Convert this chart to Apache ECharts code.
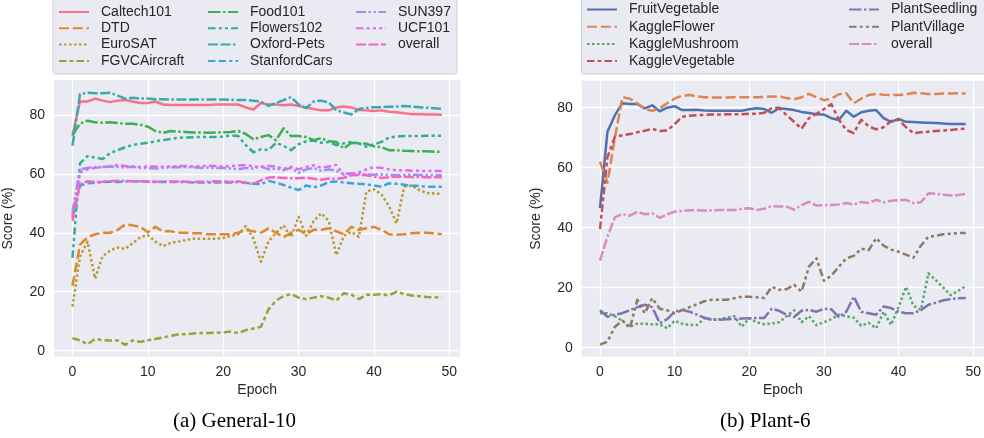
<!DOCTYPE html>
<html><head><meta charset="utf-8">
<script src="https://cdn.jsdelivr.net/npm/echarts@6/dist/echarts.min.js"></script>
<style>html,body{margin:0;padding:0;background:#fff}#c{width:984px;height:438px}</style>
</head><body><div id="c"></div>
<script>
// ---------- data ----------
const epochs = [0,1,2,3,4,5,6,7,8,9,10,11,12,13,14,15,16,17,18,19,20,21,22,23,24,25,26,27,28,29,30,31,32,33,34,35,36,37,38,39,40,41,42,43,44,45,46,47,48,49];
const xTicks = [0,10,20,30,40,50];
const yTicks = [0,20,40,60,80];

// (a) General-10
const caltech101 = [73,84.5,84.5,85.5,84.8,84.3,84.8,85,84.5,84,84,84.5,83.5,83.3,83.3,83.3,83.3,83.3,83.3,83.5,83.5,83.5,83.5,82.5,81.8,84,83.5,83.5,83.2,83.5,83,82.5,82,81.5,81.5,82.5,82.8,82.5,81.6,81.5,81.3,81.5,81,80.9,80.5,80.2,80.3,80.1,80.1,80];
const dtd = [22,36,38.5,39.5,40,40,41,42.8,42.5,42,40.2,42,40.5,40.5,40,40,39.8,39.8,39.5,39.5,39.5,39.5,40,41,40.5,40,41.5,40,38.5,40,41,39.5,41,41,41.5,40.5,39.5,42,41,41.5,42,41,39.5,39.3,39.5,39.8,40,40,39.8,39.5];
const eurosat = [15,32,37,24.5,32,34,35,34.5,36.5,38.5,39.2,37,35.5,36.5,37,37.5,38,38,38,38,38.2,39,39.5,42.3,38,30.2,37,40,42.5,38.5,45.4,39,44,46.6,44,32.4,39,40.3,38.6,54,54.7,53,49,43.2,55.6,56,54.5,53.5,53.3,53.2];
const fgvcAircraft = [4.2,3.5,2.2,4,3.6,3.5,3.5,2,3.5,3,3.5,4,4.5,5,5.5,5.6,5.8,6,6,6.1,6.2,6.5,6,7,7.5,8.1,14,17,18.5,19.2,18,17.5,18,18.5,18,17,19.5,19,17.5,19,19,19.2,18.7,20,19.2,18.7,18.5,18.2,18.1,18];
const food101 = [73,77,78,77.5,77.3,77.5,77.2,77,77,76.6,76,74.5,73.9,74.5,74.3,74.2,74,74,73.9,74,74.1,74.2,74.5,73.5,71.7,72.5,73.1,71.4,75.4,72.8,72.8,72.5,71.4,72.1,71,70.8,68.6,70.5,70.3,70.2,69.3,69,68,68,67.8,67.7,67.6,67.6,67.5,67.5];
const flowers102 = [31.5,63.5,66,65.5,65,67,68,69,69.8,70.2,70.5,71,71.4,71.8,72.2,72.3,72.4,72.5,72.5,72.5,72.6,73,72.8,69.7,67.3,68.3,68,70.5,69.5,68,70,71,71.3,70.5,70.8,69.7,70.3,70.8,70.3,69.2,70,70.8,72.3,72.6,72.8,72.8,72.8,72.9,72.9,72.9];
const oxfordPets = [69.5,87,87.5,87.3,87.3,87.5,86.5,85.5,85.8,85.5,85.5,85.3,85.3,85.2,85.2,85.2,85.2,85.2,85.2,85.2,85.2,85.1,85,85,84.8,84.5,83,84,85,86,83.5,82.3,84.5,84.8,84.2,81.5,80.8,80.1,82,82.3,82.6,82.6,82.7,82.8,83,82.8,82.6,82.4,82.2,82];
const stanfordCars = [46,56,56.8,57,57.2,57.3,57.2,57.4,57.5,57.4,57.3,57.2,57.3,57.2,57.2,57.2,57,57,57,57,57.1,57,57.2,57,56.6,56.4,57.6,57,56.2,55.3,54.5,56,55.4,56,57.2,57.4,57,56.8,56.6,56.4,56,55.6,56.8,56.6,56.3,56,55.8,55.6,55.6,55.6];
const sun397 = [47,61.5,62,62.2,62.3,62.5,62.3,62.2,62.4,62,62,61.8,62,62.2,62.2,62.3,62.2,62,62.1,62,62,61.8,61.5,62,61.8,62.5,61.5,61.8,61.3,62,60.3,61.5,62,61,61.5,61,59.9,60.2,60,59.8,59.7,59.8,59.6,59.5,59.6,59.7,59.6,59.6,59.5,59.5];
const ucf101 = [45,60.5,61.5,62,62.3,62.6,63,62.6,62.5,62.3,62.5,62.5,62.4,62.5,62.6,62.6,62.5,62.6,62.7,62.6,62.5,62.6,62.8,63,62.5,62.3,62.6,62.5,61.6,62.4,61.5,62.3,62.9,62,62.5,63,59.6,60,60.5,61.5,62.2,62,61.5,61.2,61.2,61,61,60.9,60.9,60.9];
const overallA = [44,56.5,57.5,57.2,57.3,57.5,57.6,57.6,57.5,57.5,57.4,57.3,57.3,57.4,57.4,57.3,57.2,57.3,57.3,57.5,57.4,57.2,57.5,56.8,56.6,57.8,58.7,58.8,58.6,58.5,58.5,58.7,58.3,58,58.4,58.3,58.6,59.5,59.6,59.5,59,58.6,58.8,59,59,58.9,58.9,58.8,58.8,58.8];

// (b) Plant-6
const fruitVegetable = [46.5,72,77.5,81.5,81.2,81.2,79.8,80.8,78.8,80,80.5,79.2,79.2,79.3,79.1,79,79,79,79,79,79.5,79.8,79.6,78.3,79.8,79.6,79.2,78.6,78.2,77.8,77.7,76.5,75.9,79,77,78.5,79,79.2,76.5,75.3,76.3,75.3,75.2,75.1,75,74.9,74.7,74.6,74.6,74.6];
const kaggleFlower = [62,55,70,83.5,83,81.5,79.5,79,79.8,81.5,83,84,84.2,83.8,83.5,83.4,83.4,83.4,83.5,83.5,83.5,83.5,83.6,83.7,83.8,83.2,82.8,83.5,84.6,83.5,82.5,83,84.5,84.8,81.5,83,84.2,84.6,84.3,84.2,84.2,84.4,85,84.8,84.6,84.6,84.7,84.7,84.8,84.7];
const kaggleMushroom = [11.5,11.5,10.5,9,7,8,8,7.8,7.8,6.5,9,8,7.6,7.6,9.8,9.5,9.5,10,10.5,7,9.8,8.5,7.8,8,8.5,10.5,12.5,8.5,10.5,7.5,8.5,9.5,11,10.5,10,7.3,8.3,6.5,12,7.6,13.5,20.3,14,12.6,24.8,22.5,20,17.5,19,20.5];
const kaggleVegetable = [39.5,63.5,70.3,70.8,71.2,71.8,72.3,73,72.2,72.4,74.5,77,77.3,77.5,77.6,77.7,77.7,77.8,77.8,77.8,78,78,78.3,79.8,80,77.5,75.3,73,76.5,78,79.5,81.2,76,72.6,71.5,76,73.8,72.8,73.5,75.5,76,73.5,71.5,71.8,72,72.2,72.4,72.6,72.8,73];
const plantSeedling = [12.5,10.3,11,11.5,12.5,13.5,14.3,13.5,8.2,9.5,12,12.6,12,11,10,9.3,9.3,9.5,9.6,9.7,9.8,9.9,9.9,13,12.3,11,10.2,12.3,12.6,12,13,12.8,10.2,12,17,12,11.5,11,13.7,13.2,12,11.5,11.5,12.5,14.3,15,15.8,16.2,16.5,16.6];
const plantVillage = [1,2,7,9,6.5,16,11.5,16.5,13,12.5,11.5,12.5,13.5,14.5,15.5,16,16,16,16.5,17,17,16.8,16.6,20.3,19.3,19.5,21,18.7,27,29.8,22.3,24,27,29.8,30.6,33,32.5,36.5,34,32.7,32,31,30,34,37,37.3,37.8,38,38.2,38.2];
const overallB = [29,37,43.5,44.5,44,45.3,44.5,44.8,43.3,44.5,45.3,45.6,45.8,45.8,45.7,45.8,45.9,45.9,45.9,46.3,46.5,45.9,46.3,47.2,47.1,47,46,47.5,48.6,47.4,47.5,47.6,47.7,48.2,47.7,48.6,48.2,49.3,48.4,49,49.2,49.3,48.2,48.5,51.5,51.3,51,50.7,50.9,51.3];

const namesA = ['Caltech101','DTD','EuroSAT','FGVCAircraft','Food101','Flowers102','Oxford-Pets','StanfordCars','SUN397','UCF101','overall'];
const valuesA = [caltech101,dtd,eurosat,fgvcAircraft,food101,flowers102,oxfordPets,stanfordCars,sun397,ucf101,overallA];
const colorsA = ['#f77189','#e0862f','#bb9832','#97a431','#3bb04e','#36ad91','#38aaae','#3aa5dd','#a08ef4','#e06df0','#f565c4'];

const namesB = ['FruitVegetable','KaggleFlower','KaggleMushroom','KaggleVegetable','PlantSeedling','PlantVillage','overall'];
const valuesB = [fruitVegetable,kaggleFlower,kaggleMushroom,kaggleVegetable,plantSeedling,plantVillage,overallB];
const colorsB = ['#4c72b0','#dd8452','#55a868','#c44e52','#8172b3','#937860','#da8bc3'];

// seaborn default dash patterns (in units of line width)
const dashUnits = [null,[4,1.5],[1,1],[3,1.25,1.5,1.25],[5,1,1,1],[3,1.25,1.25,1.25,1.25,1.25],[4,1,4,1,1,1],[3,1.25,3,1.25,1.25,1.25],[4,1,1,1,1,1],[3,1.25,1.25,1.25,1.25,1.25,1.25,1.25],[4,1,4,1,4,1,1,1]];
const LW = 2.5;
function dashOf(i){ const d = dashUnits[i]; return d ? d.map(v => v*LW) : 'solid'; }

const FONT = 'Liberation Sans, Arial, sans-serif';
const TXT = '#262626';

const series = [];
namesA.forEach((n,i) => {
  series.push({ name: 'A|'+n, type:'line', xAxisIndex:0, yAxisIndex:0, symbol:'none', showSymbol:false, legendIcon:'none',
    data: epochs.map((e,k) => [e, valuesA[i][k]]),
    lineStyle:{ width:LW, color:colorsA[i], type:dashOf(i), cap:'butt', join:'round' },
    itemStyle:{ color:colorsA[i] }, emphasis:{disabled:true}, silent:true });
});
namesB.forEach((n,i) => {
  series.push({ name: 'B|'+n, type:'line', xAxisIndex:1, yAxisIndex:1, symbol:'none', showSymbol:false, legendIcon:'none',
    data: epochs.map((e,k) => [e, valuesB[i][k]]),
    lineStyle:{ width:LW, color:colorsB[i], type:dashOf(i), cap:'butt', join:'round' },
    itemStyle:{ color:colorsB[i] }, emphasis:{disabled:true}, silent:true });
});

function xAxis(gi){
  return { type:'value', gridIndex:gi, min:-2.45, max:51.45,
    name:'Epoch', nameLocation:'middle', nameGap:25,
    nameTextStyle:{ fontFamily:FONT, fontSize:14, color:TXT },
    axisLine:{ show:false, onZero:false }, axisTick:{ show:false, customValues:xTicks },
    axisLabel:{ customValues:xTicks, fontFamily:FONT, fontSize:14, color:TXT, margin:8 },
    splitLine:{ show:true, lineStyle:{ color:'#ffffff', width:1.3 } } };
}
function yAxis(gi, mn, mx){
  return { type:'value', gridIndex:gi, min:mn, max:mx,
    name:'Score (%)', nameLocation:'middle', nameGap:39, nameRotate:90,
    nameTextStyle:{ fontFamily:FONT, fontSize:14, color:TXT },
    axisLine:{ show:false }, axisTick:{ show:false, customValues:yTicks },
    axisLabel:{ customValues:yTicks, fontFamily:FONT, fontSize:14, color:TXT, margin:9 },
    splitLine:{ show:true, lineStyle:{ color:'#ffffff', width:1.3 } } };
}

function legendCol(names, prefix, left, top, gap){
  return { orient:'vertical', left:left, top:top, padding:0, itemGap:gap, itemWidth:30, itemHeight:14,
    data: names.map(n => prefix+n), selectedMode:false,
    itemStyle:{ opacity:0, borderWidth:0 },
    lineStyle:{ inactiveWidth:LW },
    formatter: nm => nm.slice(2),
    textStyle:{ fontFamily:FONT, fontSize:14, color:TXT, lineHeight:14, padding:[0,0,0,7] } };
}

const chart = echarts.init(document.getElementById('c'), null, {renderer:'canvas'});
chart.setOption({
  animation:false,
  backgroundColor:'#ffffff',
  grid:[
    { left:53.3, top:80, width:407, height:276.7, show:true, backgroundColor:'#eaeaf2', borderWidth:0 },
    { left:581.7, top:80.7, width:407, height:276, show:true, backgroundColor:'#eaeaf2', borderWidth:0 }
  ],
  xAxis:[ xAxis(0), xAxis(1) ],
  yAxis:[ yAxis(0,-2.03,91.8), yAxis(1,-3,89) ],
  legend:[
    legendCol(namesA.slice(0,4),'A|',58,5,2.3),
    legendCol(namesA.slice(4,8),'A|',207,5,2.3),
    legendCol(namesA.slice(8),'A|',355,5,2.3),
    legendCol(namesB.slice(0,4),'B|',586,2.5,3.2),
    legendCol(namesB.slice(4),'B|',848,2.5,3.2)
  ],
  graphic:[
    { type:'rect', z:-1, shape:{ x:53, y:-6, width:404, height:80, r:3 }, style:{ fill:'#eaeaf2', stroke:'#cfcfd6', lineWidth:1 } },
    { type:'rect', z:-1, shape:{ x:581.5, y:-6, width:420, height:80, r:3 }, style:{ fill:'#eaeaf2', stroke:'#cfcfd6', lineWidth:1 } },
    { type:'text', left:173, top:411, style:{ text:'(a) General-10', font:'21px "Liberation Serif", "Times New Roman", serif', fill:'#000' } },
    { type:'text', left:720, top:411, style:{ text:'(b) Plant-6', font:'21px "Liberation Serif", "Times New Roman", serif', fill:'#000' } }
  ],
  series: series
});
</script>
</body></html>
